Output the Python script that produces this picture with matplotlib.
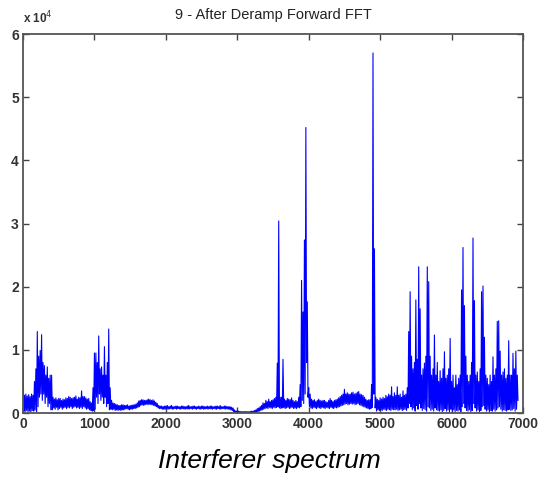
import numpy as np
import matplotlib
matplotlib.use("Agg")
import matplotlib.pyplot as plt

plt.rcParams['font.family'] = ['Liberation Sans', 'DejaVu Sans']

# ── data ──────────────────────────────────────────────────────────────────────
# the trace is very noisy, so it is kept as one high and one low value
# for every block of 20 bins (drawn interleaved, high then low)
BLOCK = 20

amp_high = [
    9700, 2800, 3000, 2700, 2900, 2600, 3000, 2800, 5000, 7000,            # 0
    12900, 9000, 9900, 12400, 8000, 7500, 6000, 7300, 5500, 6000,          # 200
    6000, 2500, 2200, 2400, 2100, 2300, 2300, 2000, 2200, 2100,            # 400
    2400, 2300, 2600, 2500, 2300, 2400, 2500, 2700, 2200, 2500,            # 600
    2400, 3500, 2600, 2600, 2400, 2200, 2300, 1800, 1600, 4000,            # 800
    9500, 9500, 8000, 12200, 7000, 7300, 6000, 10500, 6000, 8000,          # 1000
    13300, 4000, 2000, 1600, 1500, 1400, 1300, 1200, 1200, 1300,           # 1200
    1300, 1200, 1200, 1300, 1100, 1200, 1200, 1300, 1300, 1400,            # 1400
    1600, 1900, 2000, 2100, 2100, 2000, 2000, 2100, 2200, 2100,            # 1600
    2000, 2100, 1900, 1700, 1500, 1200, 1100, 1100, 1000, 1100,            # 1800
    1100, 1200, 1000, 1100, 1200, 1000, 1000, 1100, 1100, 1000,            # 2000
    1000, 1100, 1100, 1000, 1000, 1100, 1200, 1000, 1000, 1100,            # 2200
    1100, 1000, 1000, 1100, 1000, 1100, 1100, 1000, 1000, 1100,            # 2400
    1000, 1100, 1100, 1000, 1000, 1100, 1100, 1000, 1200, 1000,            # 2600
    1000, 1100, 1100, 1000, 1000, 1000, 900, 800, 500, 300,                # 2800
    400, 300, 250, 200, 250, 200, 250, 200, 200, 250,                      # 3000
    300, 300, 400, 500, 700, 800, 1000, 1200, 1600, 1500,                  # 3200
    2000, 1800, 2200, 1800, 2000, 2100, 2300, 2500, 7900, 30400,           # 3400
    2500, 2500, 8500, 2200, 2000, 2300, 2200, 2100, 2400, 2000,            # 3600
    1800, 2000, 1800, 2500, 4500, 21000, 16000, 27400, 45200, 17600,       # 3800
    4000, 3000, 2200, 2000, 2100, 1800, 2000, 2200, 2000, 1900,            # 4000
    2000, 2000, 1800, 1700, 2000, 2300, 2000, 1800, 2000, 2100,            # 4200
    2200, 2400, 2600, 2800, 3000, 3750, 3000, 3200, 3000, 3000,            # 4400
    3200, 3300, 3000, 3100, 3300, 3400, 3000, 2900, 2800, 2500,            # 4600
    2200, 2000, 2100, 2100, 4500, 57000, 26000, 2500, 2200, 2000,          # 4800
    2400, 2200, 2500, 2300, 2800, 2600, 3000, 2800, 4150, 2600,            # 5000
    3200, 2800, 4150, 2800, 3000, 2500, 3500, 2800, 3000, 4000,            # 5200
    12900, 19200, 9000, 7000, 8000, 17900, 8500, 23150, 16500, 6000,       # 5400
    7000, 7900, 9000, 23150, 20800, 9000, 6000, 7000, 12350, 6000,         # 5600
    8000, 5000, 6700, 5500, 7000, 9700, 5500, 6000, 7000, 11800,           # 5800
    5000, 6000, 4000, 6000, 4500, 5500, 6000, 19500, 26200, 17000,         # 6000
    9000, 6000, 5000, 6000, 8000, 27700, 17800, 6000, 6500, 5000,          # 6200
    7000, 19200, 20100, 12000, 6000, 5500, 4500, 6000, 5000, 8900,         # 6400
    6000, 7000, 14500, 14600, 9800, 6000, 6500, 7000, 5500, 6000,          # 6600
    11450, 6000, 6000, 9450, 7000, 9800, 6000,                             # 6800
]

amp_low = [
    300, 200, 400, 200, 300, 200, 400, 300, 500, 200,                      # 0
    1000, 2500, 3000, 2000, 3000, 1500, 2500, 1000, 1500, 500,             # 200
    500, 800, 600, 900, 500, 700, 900, 600, 800, 900,                      # 400
    700, 900, 800, 1000, 700, 900, 1000, 800, 900, 700,                    # 600
    900, 700, 1000, 800, 600, 700, 500, 400, 300, 400,                     # 800
    600, 2500, 1500, 3000, 2000, 2500, 1500, 2500, 1000, 1500,             # 1000
    500, 600, 500, 600, 400, 500, 400, 500, 400, 500,                      # 1200
    500, 600, 700, 600, 500, 600, 600, 700, 700, 800,                      # 1400
    900, 1000, 1200, 1300, 1200, 1300, 1400, 1300, 1400, 1300,             # 1600
    1300, 1200, 1100, 1000, 800, 700, 700, 600, 600, 600,                  # 1800
    700, 600, 650, 700, 600, 650, 700, 600, 700, 650,                      # 2000
    600, 700, 650, 600, 700, 600, 650, 700, 600, 700,                      # 2200
    650, 600, 700, 650, 600, 700, 600, 650, 700, 600,                      # 2400
    700, 650, 600, 700, 650, 600, 700, 650, 600, 700,                      # 2600
    700, 600, 700, 600, 600, 500, 400, 200, 100, 50,                       # 2800
    50, 30, 50, 20, 40, 30, 50, 20, 40, 30,                                # 3000
    50, 80, 100, 150, 200, 300, 400, 500, 600, 700,                        # 3200
    800, 700, 900, 800, 700, 900, 800, 900, 1000, 800,                     # 3400
    700, 800, 900, 700, 800, 900, 700, 800, 900, 700,                      # 3600
    800, 700, 900, 800, 1000, 2000, 1500, 3000, 8000, 2500,                # 3800
    1000, 800, 700, 900, 800, 700, 900, 800, 700, 900,                     # 4000
    800, 700, 900, 800, 700, 900, 800, 700, 900, 800,                      # 4200
    900, 1000, 1100, 1200, 1300, 1400, 1500, 1300, 1400, 1500,             # 4400
    1400, 1500, 1300, 1400, 1500, 1300, 1200, 1100, 1000, 900,             # 4600
    800, 700, 600, 700, 900, 3000, 800, 300, 500, 400,                     # 4800
    500, 400, 600, 500, 400, 600, 500, 400, 600, 500,                      # 5000
    500, 600, 400, 500, 600, 400, 500, 600, 400, 800,                      # 5200
    1500, 1000, 500, 800, 300, 1200, 600, 1500, 800, 400,                  # 5400
    700, 500, 300, 1000, 800, 400, 600, 300, 800, 500,                     # 5600
    400, 300, 500, 200, 400, 700, 300, 500, 200, 600,                      # 5800
    300, 500, 200, 400, 300, 500, 200, 1000, 1500, 800,                    # 6000
    400, 300, 500, 200, 400, 1500, 800, 300, 500, 200,                     # 6200
    400, 1000, 1200, 600, 300, 500, 200, 400, 300, 600,                    # 6400
    300, 500, 800, 1000, 600, 300, 500, 400, 300, 500,                     # 6600
    600, 400, 500, 700, 300, 600, 2000,                                    # 6800
]

x_ticks = [0, 1000, 2000, 3000, 4000, 5000, 6000, 7000]
y_ticks = [0, 10000, 20000, 30000, 40000, 50000, 60000]
y_tick_labels = ['0', '1', '2', '3', '4', '5', '6']

TITLE = '9 - After Deramp Forward FFT'
CAPTION = 'Interferer spectrum'

# interleave: high value at the block start, low value half a block later
n_blk = len(amp_high)
freq_bin = np.empty(2 * n_blk)
freq_bin[0::2] = np.arange(n_blk) * BLOCK
freq_bin[1::2] = np.arange(n_blk) * BLOCK + BLOCK / 2
amp = np.empty(2 * n_blk)
amp[0::2] = amp_high
amp[1::2] = amp_low

# ── plot ───────────────────────────────────────────────────────────────────────
fig = plt.figure(figsize=(5.39, 4.83), dpi=100)
ax = fig.add_axes([0.0427, 0.1449, 0.9276, 0.7847])

ax.plot(freq_bin, amp, color='#0000ff', lw=0.8)

ax.set_xlim(0, 7000)
ax.set_ylim(0, 60000)
ax.set_xticks(x_ticks)
ax.set_yticks(y_ticks)
ax.set_yticklabels(y_tick_labels)

tick_col = '#333333'
ax.tick_params(direction='in', length=4, width=1, color='#444444',
               top=True, right=True, labelsize=10, labelcolor=tick_col, pad=3)
for lbl in ax.get_xticklabels() + ax.get_yticklabels():
    lbl.set_fontweight('bold')
for sp in ax.spines.values():
    sp.set_color('#555555')
    sp.set_linewidth(1.3)

ax.set_title(TITLE, fontsize=10.5, color='#222222', pad=11)
ax.text(0.0, 1.02, r'x 10$^4$', transform=ax.transAxes, fontsize=8.5,
        fontweight='bold', color=tick_col, ha='left', va='bottom')

fig.text(0.5, 0.045, CAPTION, fontsize=19, style='italic',
         ha='center', va='center', color='black')

fig.savefig('out.png', dpi=100)
